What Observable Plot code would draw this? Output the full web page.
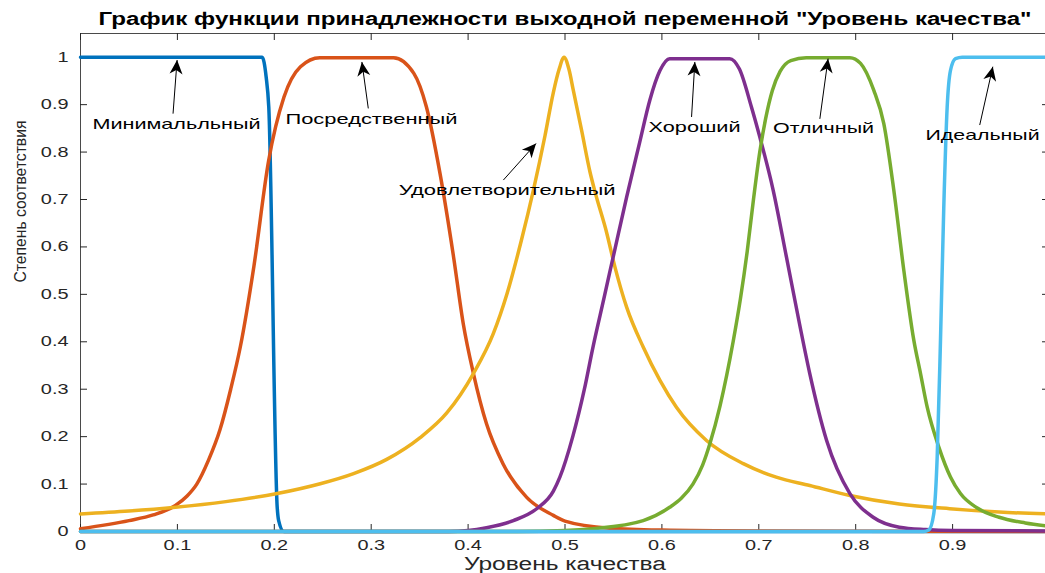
<!DOCTYPE html>
<html>
<head>
<meta charset="utf-8">
<script src="https://cdn.jsdelivr.net/npm/d3@7"></script>
<script src="https://cdn.jsdelivr.net/npm/@observablehq/plot@0.6"></script>
<style>
  html, body { margin: 0; padding: 0; background: #fff; overflow: hidden; }
  #chart svg { display: block; }
</style>
</head>
<body>
<div id="chart"></div>
<script>
// ---------- texts ----------
const title = 'График функции принадлежности выходной переменной "Уровень качества"';
const xLabel = "Уровень качества";
const yLabel = "Степень соответствия";

// ---------- ticks ----------
const xTicks = [0, 0.1, 0.2, 0.3, 0.4, 0.5, 0.6, 0.7, 0.8, 0.9, 1];
const xTickLabels = ["0", "0.1", "0.2", "0.3", "0.4", "0.5", "0.6", "0.7", "0.8", "0.9", "1"];
const yTicks = [0, 0.1, 0.2, 0.3, 0.4, 0.5, 0.6, 0.7, 0.8, 0.9, 1];
const yTickLabels = ["0", "0.1", "0.2", "0.3", "0.4", "0.5", "0.6", "0.7", "0.8", "0.9", "1"];

// ---------- series ----------
const seriesNames = ["Минимальльный", "Посредственный", "Удовлетворительный", "Хороший", "Отличный", "Идеальный"];
const seriesColors = ["#0072BD", "#D95319", "#EDB120", "#7E2F8E", "#77AC30", "#4DBEEE"];

const minimalX = [0, 0.1875, 0.1915, 0.1943, 0.203, 0.2045, 0.2098, 0.25, 1];
const minimalY = [1, 1, 0.96, 0.895, 0.051, 0.023, 0, 0, 0];

const mediocreX = [0, 0.05, 0.075, 0.098, 0.11, 0.12, 0.132, 0.144, 0.155, 0.165, 0.179, 0.194, 0.21, 0.227, 0.247, 0.323, 0.344, 0.357, 0.371, 0.385, 0.395, 0.4055, 0.419, 0.436, 0.4605, 0.488, 0.5, 0.546, 0.6, 0.7, 0.8, 1];
const mediocreY = [0.006, 0.023, 0.035, 0.055, 0.075, 0.1, 0.15, 0.215, 0.3, 0.39, 0.56, 0.78, 0.916, 0.98, 0.999, 0.999, 0.966, 0.895, 0.755, 0.579, 0.438, 0.333, 0.227, 0.143, 0.072, 0.034, 0.022, 0.007, 0.003, 0.001, 0.0005, 0];

const satisfactoryX = [0, 0.05, 0.098, 0.15, 0.203, 0.2474, 0.2818, 0.316, 0.3505, 0.378, 0.4055, 0.426, 0.44, 0.455, 0.4674, 0.4794, 0.4879, 0.494, 0.499, 0.504, 0.5086, 0.5172, 0.5258, 0.531, 0.543, 0.5515, 0.5636, 0.5807, 0.598, 0.615, 0.646, 0.684, 0.718, 0.7526, 0.794, 0.845, 0.897, 0.948, 1];
const satisfactoryY = [0.037, 0.043, 0.051, 0.063, 0.08, 0.1006, 0.122, 0.152, 0.198, 0.25, 0.333, 0.417, 0.5, 0.614, 0.72, 0.835, 0.925, 0.975, 1, 0.975, 0.93, 0.845, 0.758, 0.716, 0.63, 0.558, 0.473, 0.389, 0.3186, 0.262, 0.192, 0.143, 0.1146, 0.097, 0.076, 0.058, 0.048, 0.041, 0.037];

const goodX = [0, 0.38, 0.4, 0.419, 0.4467, 0.4708, 0.488, 0.4948, 0.508, 0.52, 0.529, 0.54, 0.5515, 0.5636, 0.577, 0.5876, 0.598, 0.608, 0.670, 0.680, 0.6924, 0.701, 0.7148, 0.7285, 0.742, 0.7526, 0.77, 0.794, 0.818, 0.845, 0.872, 0.9, 1];
const goodY = [0, 0, 0.002, 0.008, 0.023, 0.048, 0.085, 0.115, 0.2, 0.3, 0.39, 0.49, 0.595, 0.705, 0.82, 0.91, 0.972, 0.997, 0.997, 0.975, 0.895, 0.832, 0.72, 0.579, 0.438, 0.333, 0.192, 0.08, 0.030, 0.009, 0.004, 0.002, 0.001];

const excellentX = [0, 0.45, 0.5, 0.529, 0.5807, 0.608, 0.62, 0.632, 0.642, 0.6495, 0.66, 0.6735, 0.681, 0.688, 0.6945, 0.701, 0.707, 0.714, 0.722, 0.733, 0.749, 0.794, 0.805, 0.8187, 0.829, 0.8393, 0.8497, 0.86, 0.8669, 0.8738, 0.8858, 0.8978, 0.9081, 0.925, 0.948, 0.975, 1];
const excellentY = [0, 0, 0.002, 0.006, 0.023, 0.051, 0.07, 0.10, 0.14, 0.185, 0.265, 0.4, 0.49, 0.59, 0.7, 0.8, 0.87, 0.93, 0.97, 0.993, 0.999, 0.999, 0.987, 0.93, 0.86, 0.72, 0.55, 0.403, 0.333, 0.262, 0.178, 0.115, 0.08, 0.05, 0.030, 0.018, 0.011];

const idealX = [0, 0.87, 0.8754, 0.8806, 0.8841, 0.8875, 0.8909, 0.8944, 0.8978, 0.903, 0.91, 1];
const idealY = [0, 0, 0.003, 0.038, 0.157, 0.403, 0.684, 0.895, 0.972, 0.997, 1, 1];

const seriesX = [minimalX, mediocreX, satisfactoryX, goodX, excellentX, idealX];
const seriesY = [minimalY, mediocreY, satisfactoryY, goodY, excellentY, idealY];

// ---------- annotations (data coordinates) ----------
const labelX = [0.0991, 0.3003, 0.4403, 0.6337, 0.7668, 0.9309];
const labelY = [0.849, 0.86, 0.709, 0.842, 0.84, 0.826];
const arrowTailX = [0.0955, 0.297, 0.4364, 0.6306, 0.763, 0.928];
const arrowTailY = [0.881, 0.892, 0.741, 0.874, 0.87, 0.857];
const arrowTipX = [0.0997, 0.2904, 0.4701, 0.634, 0.7715, 0.9415];
const arrowTipY = [0.994, 0.99, 0.818, 0.99, 0.997, 0.98];

// ---------- build tables ----------
const curves = seriesNames.map((name, s) => seriesX[s].map((x, i) => ({name, x, y: seriesY[s][i]})));
const annotations = seriesNames.map((name, i) => ({
  name, lx: labelX[i], ly: labelY[i],
  x1: arrowTailX[i], y1: arrowTailY[i], x2: arrowTipX[i], y2: arrowTipY[i]
}));

const axisColor = "#262626";
const arrowColor = "#000001";
const font = "'Liberation Sans', Arial, Helvetica, sans-serif";
const shownXTicks = xTicks.filter(d => d < 1); // the "1" label sits beyond the right edge

const marks = [
  Plot.frame({stroke: "#4a4a4a", strokeWidth: 1}),
  // inward ticks (MATLAB style)
  Plot.ruleX(xTicks, {x: d => d, insetTop: 491, stroke: axisColor, strokeWidth: 1}),
  Plot.ruleX(xTicks, {x: d => d, insetBottom: 491, stroke: axisColor, strokeWidth: 1}),
  Plot.ruleY(yTicks, {y: d => d, insetRight: 962, stroke: axisColor, strokeWidth: 1}),
  Plot.ruleY(yTicks, {y: d => d, insetLeft: 962, stroke: axisColor, strokeWidth: 1}),
  Plot.axisX(shownXTicks, {anchor: "bottom", tickSize: 0, tickPadding: 9, fontSize: 14, fill: axisColor,
    label: null, tickFormat: d => xTickLabels[xTicks.indexOf(d)]}),
  Plot.axisY(yTicks, {anchor: "left", tickSize: 0, tickPadding: 12, fontSize: 14, fill: axisColor,
    label: null, tickFormat: d => yTickLabels[yTicks.indexOf(d)]}),
];

curves.forEach((data, s) => {
  marks.push(Plot.line(data, {x: "x", y: "y", stroke: seriesColors[s], strokeWidth: 3.5,
    curve: "monotone-x", strokeLinejoin: "round", strokeLinecap: "round"}));
});

marks.push(
  Plot.link(annotations, {x1: "x1", y1: "y1", x2: "x2", y2: "y2", stroke: arrowColor, strokeWidth: 1}),
  Plot.text(annotations, {x: "lx", y: "ly", text: "name", lineAnchor: "bottom", fontSize: 15, fill: "#000"}),
  Plot.text([title], {frameAnchor: "top", dy: -9, lineAnchor: "bottom", fontSize: 18,
    fontWeight: "bold", fill: "#000"}),
  Plot.text([yLabel], {frameAnchor: "left", dx: -60, rotate: -90, lineAnchor: "middle",
    fontSize: 17, fill: axisColor}),
  Plot.text([xLabel], {frameAnchor: "bottom", dy: 26, lineAnchor: "top", fontSize: 18,
    fontFamily: "'Liberation Sans Narrow', 'Liberation Sans', Arial, sans-serif", fill: axisColor})
);

const svg = Plot.plot({
  width: 1045,
  height: 573,
  marginLeft: 80,
  marginRight: -4,
  marginTop: 33,
  marginBottom: 42,
  style: {fontFamily: font, background: "#fff", overflow: "hidden"},
  x: {domain: [0, 1]},
  y: {domain: [0, 1.05]},
  marks
});

document.getElementById("chart").append(svg);

// ---------- post styling: arrow heads, horizontal text stretch ----------
const root = d3.select(svg);
const defs = root.insert("defs", ":first-child");
defs.append("marker")
  .attr("id", "annot-head")
  .attr("viewBox", "-16 -8 17 16")
  .attr("markerWidth", 17).attr("markerHeight", 16)
  .attr("markerUnits", "userSpaceOnUse")
  .attr("orient", "auto")
  .attr("refX", 0).attr("refY", 0)
  .append("path")
  .attr("d", "M0,0L-14,-6.5L-10,0L-14,6.5Z")
  .attr("fill", "#000");
root.selectAll(`[stroke="${arrowColor}"] path, [stroke="${arrowColor}"] line, path[stroke="${arrowColor}"]`)
  .attr("marker-end", "url(#annot-head)");

const textWidths = new Map([
  ["Минимальльный", 168], ["Посредственный", 172], ["Удовлетворительный", 217],
  ["Хороший", 92], ["Отличный", 101], ["Идеальный", 114],
  [title, 933], [yLabel, 162], [xLabel, 202]
]);
const tickSet = new Set([...xTickLabels, ...yTickLabels]);

root.selectAll("text").each(function () {
  const s = this.textContent;
  let t = null;
  if (textWidths.has(s)) t = textWidths.get(s);
  else if (tickSet.has(s)) t = this.getComputedTextLength() * 1.42;
  if (t) {
    this.setAttribute("textLength", t);
    this.setAttribute("lengthAdjust", "spacingAndGlyphs");
  }
});
</script>
</body>
</html>
